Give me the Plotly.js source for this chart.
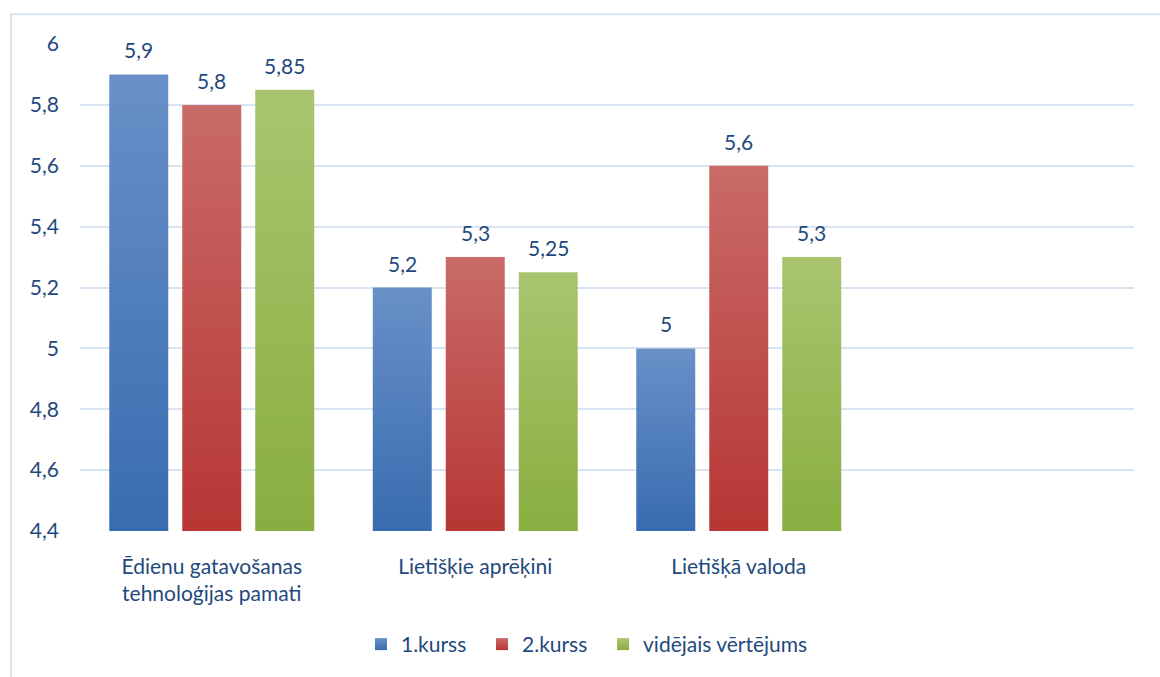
<!DOCTYPE html>
<html>
<head>
<meta charset="utf-8">
<script src="https://cdn.plot.ly/plotly-3.0.1.min.js"></script>
<style>
  html, body { margin: 0; padding: 0; background: #fff; }
  #chart { width: 1160px; height: 677px; }
</style>
</head>
<body>
<div id="chart"></div>
<script>
// ---- data ----
const categories = ['Ēdienu gatavošanas<br>tehnoloģijas pamati', 'Lietišķie aprēķini', 'Lietišķā valoda', ' '];
const seriesNames = ['1.kurss', '2.kurss', 'vidējais vērtējums'];
const kurss1 = [5.9, 5.2, 5.0, null];
const kurss2 = [5.8, 5.3, 5.6, null];
const videjais = [5.85, 5.25, 5.3, null];
const yTickVals = [4.4, 4.6, 4.8, 5, 5.2, 5.4, 5.6, 5.8, 6];

// ---- styles ----
const colors = ['#4F81BD', '#C0504D', '#9BBB59'];
const gradTop = ['#6990C8', '#C96B68', '#AAC56F'];
const gradBottom = ['#386CB0', '#B73634', '#88AE40'];
const textColor = '#1F497D';
const fontFam = 'Lato, "Open Sans", sans-serif';
const fs = 21;

const W = 1160, H = 677;
const M = { l: 80, r: 26, t: 44, b: 143 };
const bargap = 0.169, bargroupgap = 0.192;

function fmt(v) { return v == null ? '' : String(v).replace('.', ','); }

const allSeries = [kurss1, kurss2, videjais];
const legendPad = '\u00a0\u00a0';
const traces = allSeries.map((vals, i) => ({
  type: 'bar',
  name: seriesNames[i] + (i < allSeries.length - 1 ? legendPad : ''),
  x: categories,
  y: vals,
  marker: { color: colors[i], line: { width: 0 } },
  hoverinfo: 'skip'
}));

// value labels as annotations, shifted to each bar's slot in the group
const plotW = W - M.l - M.r;
const slotPx = plotW / categories.length * (1 - bargap) / allSeries.length;
const annotations = [];
allSeries.forEach((vals, i) => {
  vals.forEach((v, j) => {
    if (v == null) return;
    annotations.push({
      x: categories[j], y: v, xref: 'x', yref: 'y',
      text: fmt(v), showarrow: false,
      xanchor: 'center', yanchor: 'bottom',
      xshift: (i - (allSeries.length - 1) / 2) * slotPx,
      yshift: 10,
      font: { family: fontFam, size: fs, color: textColor }
    });
  });
});

const layout = {
  width: W,
  height: H,
  margin: M,
  paper_bgcolor: '#ffffff',
  plot_bgcolor: '#ffffff',
  separators: ', ',
  barmode: 'group',
  bargap: bargap,
  bargroupgap: bargroupgap,
  font: { family: fontFam, size: fs, color: textColor },
  showlegend: true,
  legend: {
    orientation: 'h',
    x: 0.481, xanchor: 'center',
    y: -0.233, yanchor: 'middle',
    font: { family: fontFam, size: fs, color: textColor },
    itemclick: false
  },
  xaxis: {
    type: 'category',
    showgrid: false,
    showline: false,
    zeroline: false,
    ticks: '',
    tickfont: { family: fontFam, size: fs, color: textColor },
    ticklabelstandoff: 21,
    fixedrange: true
  },
  yaxis: {
    range: [4.4, 6],
    tickvals: yTickVals,
    ticktext: yTickVals.map(fmt),
    showgrid: true,
    gridcolor: '#D9E4F3',
    gridwidth: 2,
    zeroline: false,
    showline: false,
    ticks: '',
    tickfont: { family: fontFam, size: fs, color: textColor },
    ticklabelstandoff: 20,
    fixedrange: true
  },
  annotations: annotations,
  shapes: [{
    type: 'rect', xref: 'paper', yref: 'paper',
    x0: -0.0655, x1: 1.04, y0: -0.4, y1: 1.0612,
    line: { color: '#D9E3F1', width: 2 },
    fillcolor: 'rgba(0,0,0,0)',
    layer: 'below'
  }]
};

Plotly.newPlot('chart', traces, layout, { staticPlot: true, displayModeBar: false }).then(gd => {
  // vertical gradients on bars (visible part only) and legend swatches
  const svg = gd.querySelector('svg.main-svg');
  const ns = 'http://www.w3.org/2000/svg';
  let defs = svg.querySelector('defs');
  if (!defs) { defs = document.createElementNS(ns, 'defs'); svg.insertBefore(defs, svg.firstChild); }
  function makeGrad(id, i, units, y1, y2) {
    const g = document.createElementNS(ns, 'linearGradient');
    g.setAttribute('id', id);
    g.setAttribute('gradientUnits', units);
    g.setAttribute('x1', '0'); g.setAttribute('y1', String(y1));
    g.setAttribute('x2', '0'); g.setAttribute('y2', String(y2));
    [['0', gradTop[i]], ['1', gradBottom[i]]].forEach(([o, col]) => {
      const s = document.createElementNS(ns, 'stop');
      s.setAttribute('offset', o);
      s.setAttribute('stop-color', col);
      g.appendChild(s);
    });
    defs.appendChild(g);
  }
  const bottom = gd._fullLayout.yaxis._length;
  gd.querySelectorAll('.barlayer .trace.bars').forEach((tr, i) => {
    tr.querySelectorAll('.point path').forEach((p, k) => {
      const bb = p.getBBox();
      if (!bb.height) return;
      const id = 'bargrad' + i + '_' + k;
      makeGrad(id, i, 'userSpaceOnUse', bb.y, bottom);
      p.style.setProperty('fill', 'url(#' + id + ')', 'important');
    });
  });
  gd.querySelectorAll('.legend .traces').forEach((tr, i) => {
    const id = 'leggrad' + i;
    makeGrad(id, i, 'objectBoundingBox', 0, 1);
    tr.querySelectorAll('.legendpoints path').forEach(p => { p.style.setProperty('fill', 'url(#' + id + ')', 'important'); });
  });
});
</script>
</body>
</html>
